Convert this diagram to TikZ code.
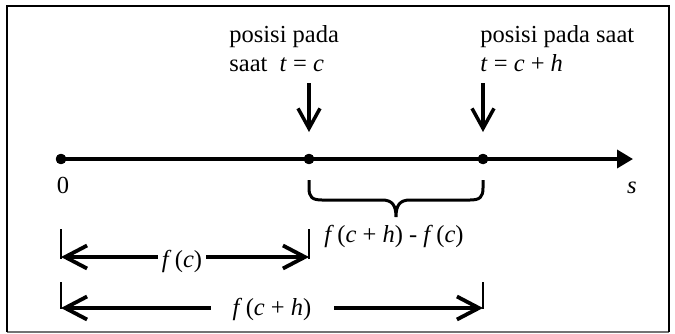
\documentclass[tikz,border=0pt]{standalone}
\usepackage{fontspec}
\setmainfont{Liberation Serif}
\usetikzlibrary{arrows.meta}
\begin{document}
\begin{tikzpicture}[x=0.5pt,y=-0.5pt,
  font=\fontsize{12.25}{15}\selectfont,
  frame/.style={line width=1.4pt},
  framebottom/.style={line width=1pt,draw=black!55},
  axisline/.style={line width=1.75pt,-{Triangle[length=8pt,width=9pt]}},
  dotnode/.style={circle,fill,inner sep=0pt,minimum size=5.2pt},
  pointer/.style={line width=1.75pt,-{Straight Barb[length=10pt,width=11pt]}},
  dimarrow/.style={line width=1.9pt,{Straight Barb[length=11pt,width=11.5pt]}-{Straight Barb[length=11pt,width=11.5pt]}},
  tickline/.style={line width=0.9pt},
  bracestyle/.style={line width=1.5pt},
  txt/.style={inner sep=0pt,anchor=base west},
  lbl/.style={inner sep=0pt,anchor=base,fill=white,inner ysep=2pt}
]
\useasboundingbox (0,0) rectangle (675,333);
\coordinate (fbl) at (7,332);
\coordinate (ftl) at (7,6);
\coordinate (ftr) at (669,6);
\coordinate (fbr) at (669,332);
\draw[framebottom] (fbl) -- (fbr);
\draw[frame] (fbl) -- (ftl) -- (ftr) -- (fbr);

% axis
\node[dotnode] (d0) at (61,159) {};
\node[dotnode] (d1) at (309,159) {};
\node[dotnode] (d2) at (483,159) {};
\coordinate (axend) at (633,159);
\draw[axisline] (d0.center) -- (axend);
\node[dotnode] at (d0) {};
\node[dotnode] at (d1) {};
\node[dotnode] at (d2) {};

\node[inner sep=0pt,anchor=base] (zero) at (63,193) {0};
\node[inner sep=0pt,anchor=base] (slab) at (632,193) {\textit{s}};

% top labels
\node[txt] (p1a) at (229,42) {posisi pada};
\node[txt] (p1b) at (229,71) {saat\ \ \textit{t} = \textit{c}};
\node[txt] (p2a) at (480,42) {posisi pada saat};
\node[txt] (p2b) at (480,71) {\textit{t} = \textit{c} + \textit{h}};

\coordinate (a1s) at (309,83);
\coordinate (a1e) at (309,132);
\coordinate (a2s) at (483,83);
\coordinate (a2e) at (483,132);
\draw[pointer] (a1s) -- (a1e);
\draw[pointer] (a2s) -- (a2e);

% brace
\coordinate (bl) at (309,180);
\coordinate (br) at (483,180);
\coordinate (btip) at (396,217);
\draw[bracestyle] (bl) -- (309,188) .. controls (309,197) and (312,200) .. (322,200)
  -- (382,200) .. controls (392,200) and (396,205) .. (btip)
  .. controls (396,205) and (400,200) .. (410,200)
  -- (470,200) .. controls (480,200) and (483,197) .. (483,188) -- (br);
\node[inner sep=0pt,anchor=base] (diff) at (394,242)
  {\textit{f}\hspace{0.14em}(\textit{c} + \textit{h}) - \textit{f}\hspace{0.14em}(\textit{c})};

% dimension f(c)
\coordinate (t1a) at (61,229);
\coordinate (t1b) at (61,259);
\coordinate (t2a) at (309,229);
\coordinate (t2b) at (309,259);
\draw[tickline] (t1a) -- (t1b);
\draw[tickline] (t2a) -- (t2b);
\coordinate (m1a) at (61,257);
\coordinate (m1b) at (309,257);
\draw[dimarrow] (m1a) -- (m1b);
\node[lbl,minimum width=24pt] (fc) at (182,267)
  {\textit{f}\hspace{0.14em}(\textit{c})};

% dimension f(c+h)
\coordinate (t3a) at (61,282);
\coordinate (t3b) at (61,309);
\coordinate (t4a) at (483,282);
\coordinate (t4b) at (483,309);
\draw[tickline] (t3a) -- (t3b);
\draw[tickline] (t4a) -- (t4b);
\coordinate (m2a) at (61,308);
\coordinate (m2b) at (483,308);
\draw[dimarrow] (m2a) -- (m2b);
\node[lbl,minimum width=61.5pt] (fch) at (272,315)
  {\textit{f}\hspace{0.14em}(\textit{c} + \textit{h})};
\end{tikzpicture}
\end{document}
